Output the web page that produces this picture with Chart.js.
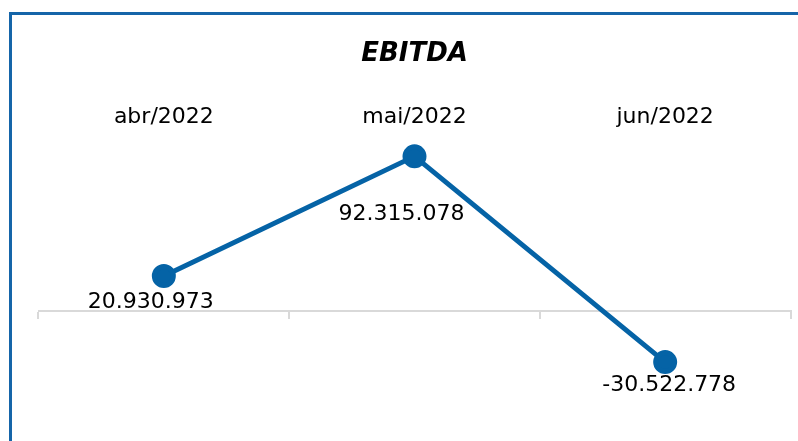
<!DOCTYPE html>
<html>
<head>
<meta charset="utf-8">
<script src="https://cdn.jsdelivr.net/npm/chart.js@4.4.1/dist/chart.umd.min.js"></script>
<style>
  html, body { margin: 0; padding: 0; background: #fff; }
  body { width: 798px; height: 441px; position: relative; overflow: hidden; }
  #frame {
    position: absolute; left: 9px; top: 12px; right: -10px; bottom: -10px;
    border-left: 3px solid #1565a9; border-top: 3px solid #1565a9;
  }
  #chart { position: absolute; left: 24px; top: 0; }
</style>
</head>
<body>
<div id="frame"></div>
<canvas id="chart" width="781" height="441"></canvas>
<script>
const months = ["abr/2022", "mai/2022", "jun/2022"];
const ebitda = [20930973, 92315078, -30522778];

const blue = "#0563a6";
const font = "'DejaVu Sans', sans-serif";

function fmt(v) {
    let s = Math.abs(v).toString().replace(/\B(?=(\d{3})+(?!\d))/g, ".");
    return (v < 0 ? "-" : "") + s;
}

// labels under the points, shifted like Excel did
const pointLabels = {
    id: "pointLabels",
    afterDatasetsDraw(chart, args, opts) {
        let ctx = chart.ctx;
        let meta = chart.getDatasetMeta(0);
        ctx.save();
        ctx.font = "22px " + font;
        ctx.fillStyle = "#000";
        ctx.textAlign = "center";
        ctx.textBaseline = "middle";
        meta.data.forEach((pt, i) => {
            ctx.fillText(fmt(ebitda[i]), pt.x + opts.dx[i], pt.y + opts.dy[i]);
        });
        ctx.restore();
    }
};

let chart = new Chart(document.getElementById("chart"), {
    type: "line",
    data: {
        labels: months,
        datasets: [{
            label: "EBITDA",
            data: ebitda,
            borderColor: blue,
            backgroundColor: blue,
            borderWidth: 5,
            pointRadius: 9.5,
            pointHoverRadius: 9.5,
            tension: 0
        }]
    },
    plugins: [pointLabels],
    options: {
        responsive: false,
        animation: false,
        layout: { padding: { left: 0, right: 0, bottom: 10 } },
        plugins: {
            legend: { display: false },
            tooltip: { enabled: false },
            title: {
                display: true,
                text: "EBITDA",
                color: "#000",
                font: { family: font, size: 26, weight: "bold", style: "italic" },
                padding: { top: 39, bottom: 31 }
            },
            pointLabels: { dx: [-13, -13, 4], dy: [26, 58, 23] }
        },
        scales: {
            x: {
                type: "category",
                position: { y: 0 },
                offset: true,
                ticks: { display: false },
                grid: { offset: true, drawOnChartArea: false, drawTicks: true, tickLength: 7, color: "#d9d9d9", lineWidth: 2 },
                border: { display: true, color: "#d9d9d9", width: 2 }
            },
            x2: {
                type: "category",
                position: "top",
                labels: months,
                offset: true,
                ticks: { color: "#000", font: { family: font, size: 22 }, padding: 3 },
                grid: { display: false },
                border: { display: false }
            },
            y: {
                display: false,
                min: -68960000,
                max: 101130000
            }
        }
    }
});
</script>
</body>
</html>
